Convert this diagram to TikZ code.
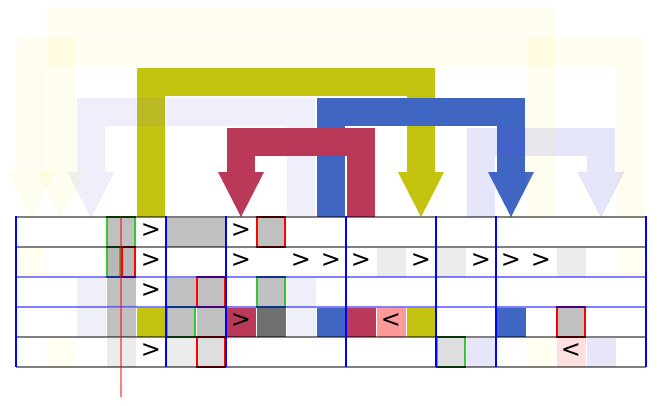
\documentclass[tikz,border=0pt]{standalone}
\usepackage{fontspec}
\setmainfont{DejaVu Sans}
\definecolor{cgray}{RGB}{192,192,192}
\definecolor{cgrayb}{RGB}{184,184,184}
\definecolor{clight}{RGB}{236,236,236}
\definecolor{clightb}{RGB}{222,222,222}
\definecolor{colive}{RGB}{196,196,16}
\definecolor{ccrim}{RGB}{186,56,88}
\definecolor{cblue}{RGB}{64,102,196}
\definecolor{cpink}{RGB}{255,152,152}
\definecolor{clpink}{RGB}{255,224,224}
\definecolor{cdark}{RGB}{112,112,112}
\definecolor{clav}{RGB}{239,239,249}
\definecolor{clavb}{RGB}{230,230,248}
\definecolor{cyel}{RGB}{255,254,240}
\definecolor{lavbase}{RGB}{80,80,220}
\definecolor{yelbase}{RGB}{255,230,0}
\definecolor{gbright}{RGB}{50,200,50}
\definecolor{gdark}{RGB}{20,110,20}
\definecolor{rbright}{RGB}{255,0,0}
\definecolor{rdark}{RGB}{140,0,0}
\newcommand\hlbox[6]{%
  \draw[#1,line width=2pt] (#3+1,#4) -- (#3+1,#6) (#5-1,#4) -- (#5-1,#6);
  \draw[#2,line width=2pt] (#3,#4) -- (#5,#4) (#3,#6) -- (#5,#6);
}
\begin{document}
\begin{tikzpicture}[x=1pt,y=-1pt,
  cell/.style={minimum width=30pt,minimum height=30pt,inner sep=0pt,outer sep=0pt,draw=white,line width=1pt},
  sym/.style={inner sep=0pt,font=\fontsize{24}{24}\selectfont},
  shaft/.style={line width=28pt,line join=miter,line cap=butt},
  gridg/.style={draw=black,draw opacity=0.5,line width=2pt},
  gridb/.style={draw=blue,draw opacity=0.5,line width=2pt},
  vsep/.style={draw=blue,line width=2pt},
  probe/.style={draw=red,draw opacity=0.5,line width=2pt},
  lavA/.style={draw=lavbase,fill=lavbase,opacity=0.09},
  lavB/.style={draw=lavbase,fill=lavbase,opacity=0.14},
  yelA/.style={draw=yelbase,fill=yelbase,opacity=0.06},
]
\useasboundingbox (0,0) rectangle (658,405);
\fill[white] (0,0) rectangle (658,405);
% column tops and arrow-head bases
\foreach \i in {0,...,20} {
  \coordinate (t\i) at ({31+30*\i},217);
  \coordinate (h\i) at ({31+30*\i},172);
}
% cells
\foreach \c/\r/\f in {3/1/cgray, 8/1/cgray,
    0/2/cyel, 3/2/cgrayb, 12/2/clight, 14/2/clight, 18/2/clight, 20/2/cyel,
    2/3/clav, 3/3/cgray, 5/3/cgray, 6/3/cgray, 8/3/cgray, 9/3/clav,
    2/4/clav, 3/4/cgray, 4/4/colive, 5/4/cgray, 6/4/cgray, 7/4/ccrim, 8/4/cdark,
    9/4/clav, 10/4/cblue, 11/4/ccrim, 12/4/cpink, 13/4/colive, 16/4/cblue, 18/4/cgray,
    1/5/cyel, 3/5/clight, 5/5/clight, 6/5/clightb, 14/5/clightb, 15/5/clavb,
    17/5/cyel, 18/5/clpink, 19/5/clavb}
  \node[cell,fill=\f] (c\c-\r) at ({31+30*\c},{202+30*\r}) {};
\node[cell,fill=cgray,minimum width=60pt] (c5-1) at (196,232) {};
% arrows
\draw[shaft,colive] (t4) -- ++(0,-135) -| (h13);
\fill[colive] (h13) ++(-23,0) -- (t13) -- ++(23,-45) -- cycle;
\draw[shaft,lavA,fill=none] (t9) -- ++(0,-105) -| (h2);
\fill[lavA] (h2) ++(-23,0) -- (t2) -- ++(23,-45) -- cycle;
\draw[shaft,cblue] (t10) -- ++(0,-105) -| (h16);
\fill[cblue] (h16) ++(-23,0) -- (t16) -- ++(23,-45) -- cycle;
\draw[shaft,ccrim] (t11) -- ++(0,-75) -| (h7);
\fill[ccrim] (h7) ++(-23,0) -- (t7) -- ++(23,-45) -- cycle;
\draw[shaft,lavB,fill=none] (t15) -- ++(0,-75) -| (h19);
\fill[lavB] (h19) ++(-23,0) -- (t19) -- ++(23,-45) -- cycle;
\draw[shaft,yelA,fill=none] (t17) -- ++(0,-195) -| (h1);
\fill[yelA] (h1) ++(-23,0) -- (t1) -- ++(23,-45) -- cycle;
\draw[shaft,yelA,fill=none] (t20) -- ++(0,-165) -| (h0);
\fill[yelA] (h0) ++(-23,0) -- (t0) -- ++(23,-45) -- cycle;
% highlight boxes
\hlbox{gbright}{gdark}{106}{217}{136}{247}
\hlbox{gbright}{gdark}{106}{247}{121}{277}
\hlbox{rbright}{rdark}{121}{247}{136}{277}
\hlbox{rbright}{rdark}{256}{217}{286}{247}
\hlbox{rbright}{rdark}{196}{277}{226}{307}
\hlbox{gbright}{gdark}{256}{277}{286}{307}
\hlbox{gbright}{gdark}{166}{307}{196}{337}
\hlbox{rbright}{rdark}{556}{307}{586}{337}
\hlbox{rbright}{rdark}{196}{337}{226}{367}
\hlbox{gbright}{gdark}{436}{337}{466}{367}
% grid lines
\foreach \y in {217,247,337,367} \draw[gridg] (16,\y) -- (646,\y);
\foreach \y in {277,307} \draw[gridb] (16,\y) -- (646,\y);
\foreach \x in {16,166,226,346,436,496,646} \draw[vsep] (\x,216) -- (\x,367);
% symbols
\foreach \c/\r in {4/1, 7/1, 4/2, 7/2, 9/2, 10/2, 11/2, 13/2, 15/2, 16/2, 17/2, 4/3, 7/4, 4/5}
  \node[sym] (g\c-\r) at ({31+30*\c},{201+30*\r}) {>};
\node[sym] (g12-4) at (391,321) {<};
\node[sym] (g18-5) at (571,351) {<};
% probe line
\draw[probe] (121,217) -- (121,397);
\end{tikzpicture}
\end{document}
